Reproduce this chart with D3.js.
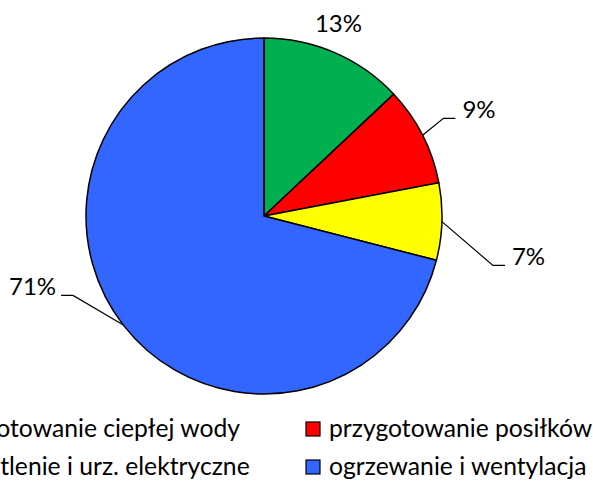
<!DOCTYPE html>
<html>
<head>
<meta charset="utf-8">
<script src="https://cdn.jsdelivr.net/npm/d3@7"></script>
<style>
  html, body { margin: 0; padding: 0; background: #fff; }
  svg { display: block; font-family: Lato, "Noto Sans", sans-serif; }
</style>
</head>
<body>
<svg id="chart" width="593" height="482"></svg>
<script>
// chart data
const categories = ["przygotowanie ciepłej wody", "przygotowanie posiłków", "oświetlenie i urz. elektryczne", "ogrzewanie i wentylacja"];
const shares = [13, 9, 7, 71];
const colors = ["#00B050", "#FF0000", "#FFFF00", "#3366FF"];

// layout (label centres relative to the pie centre, leader on/off)
const labelPos = [[74.5, -192.5], [215, -106], [264.5, 41], [-231.5, 71]];
const hasLeader = [false, true, true, true];

const width = 593, height = 482;
const cx = 264, cy = 216, radius = 178;
const fontSize = 24;
const legendFont = 24.7;

const svg = d3.select("#chart");
const g = svg.append("g").attr("transform", "translate(" + cx + "," + cy + ")");

const pie = d3.pie().sort(null).value(d => d);
const arcs = pie(shares);
const arc = d3.arc().innerRadius(0).outerRadius(radius);

g.selectAll("path.slice")
  .data(arcs)
  .enter().append("path")
    .attr("class", "slice")
    .attr("d", arc)
    .attr("fill", (d, i) => colors[i])
    .attr("stroke", "#000")
    .attr("stroke-width", 1.5)
    .attr("stroke-linejoin", "round");

// labels
const labels = g.selectAll("text.lbl")
  .data(arcs)
  .enter().append("text")
    .attr("class", "lbl")
    .attr("x", (d, i) => labelPos[i][0])
    .attr("y", (d, i) => labelPos[i][1])
    .attr("dy", "0.35em")
    .attr("text-anchor", "middle")
    .attr("font-size", fontSize)
    .attr("fill", "#000")
    .text(d => d.value + "%");

// leader lines
labels.each(function(d, i) {
  if (!hasLeader[i]) return;
  const w = this.getComputedTextLength();
  const a = (d.startAngle + d.endAngle) / 2;
  const sx = Math.sin(a) * radius, sy = -Math.cos(a) * radius;
  const ly = labelPos[i][1] + fontSize * 0.35;
  const right = labelPos[i][0] > 0;
  const ex = right ? labelPos[i][0] - w / 2 - 7 : labelPos[i][0] + w / 2 + 5;
  const bx = right ? ex - 12 : ex + 12;
  g.append("path")
    .attr("d", "M" + sx + "," + sy + "L" + bx + "," + ly + "L" + ex + "," + ly)
    .attr("fill", "none")
    .attr("stroke", "#000")
    .attr("stroke-width", 1.2);
});

// legend (two columns, first column clipped at the left edge)
const legend = svg.append("g").attr("class", "legend");
const col2x = 329, col1End = 240;
const rowBase = [437, 475];

categories.forEach(function(name, i) {
  const row = Math.floor(i / 2), col = i % 2;
  const t = legend.append("text")
    .attr("y", rowBase[row])
    .attr("font-size", legendFont)
    .attr("fill", "#000")
    .text(name);
  let tx;
  if (col === 1) {
    tx = col2x;
  } else {
    // first column: right end of the first entry sits at col1End
    const tmp = legend.append("text").attr("font-size", legendFont).text(categories[0]);
    tx = col1End - tmp.node().getComputedTextLength();
    tmp.remove();
  }
  t.attr("x", tx);
  legend.append("rect")
    .attr("x", tx - 23)
    .attr("y", rowBase[row] - 15)
    .attr("width", 14)
    .attr("height", 14)
    .attr("fill", colors[i])
    .attr("stroke", "#000")
    .attr("stroke-width", 1.2);
});
</script>
</body>
</html>
